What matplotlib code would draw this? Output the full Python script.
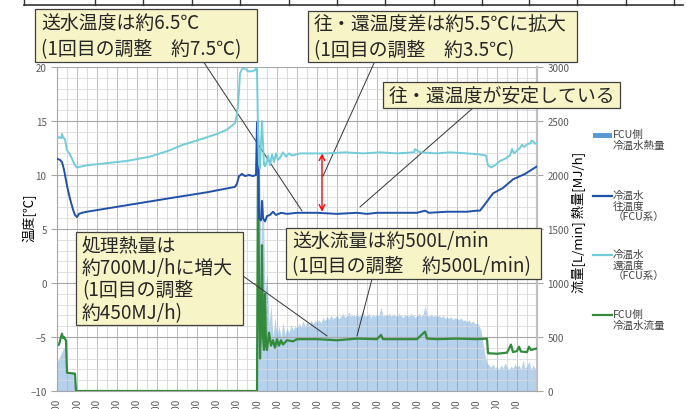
import numpy as np
import matplotlib
matplotlib.use("Agg")
import matplotlib.pyplot as plt
from matplotlib.patches import Rectangle
from matplotlib.lines import Line2D

plt.rcParams['font.family'] = ['Noto Sans CJK JP', 'DejaVu Sans']

W, H = 687, 410

# time axis (hours), one label per hour
hour_ticks = list(range(24))
hour_labels = ['%d:00' % h for h in hour_ticks]

# 冷温水 還温度 (FCU系) [℃]
ret_t = [0, 0.1, 0.2, 0.25, 0.3, 0.4, 0.5, 0.65, 0.75, 0.9, 1.0, 1.5, 2.5, 3.5, 4.65, 5.5,
         6.3, 7.0, 8.0, 8.5, 8.9, 9.0, 9.05, 9.1, 9.15, 9.25, 9.4, 9.55, 9.75, 9.9, 9.95,
         10.0, 10.05, 10.1, 10.15, 10.2, 10.25, 10.3, 10.35, 10.4, 10.5, 10.55, 10.65, 10.75,
         10.85, 10.95, 11.05, 11.15, 11.3, 11.45, 11.6, 11.75, 12.15, 12.65, 13.5, 14.4, 15.3,
         16.15, 17.0, 17.85, 17.9, 18.15, 19.0, 19.65, 20.5, 21.15, 21.45, 21.55, 21.7, 21.9,
         22.15, 22.4, 22.65, 22.75, 22.85, 23.15, 23.25, 23.35, 23.55, 23.65, 23.75, 23.9, 24.0]
ret_temp = [13.4, 13.5, 13.4, 13.8, 13.5, 13.3, 12.3, 11.9, 11.5, 10.9, 10.7, 10.9, 11.1, 11.3, 11.7, 12.2,
            12.8, 13.2, 13.8, 14.2, 14.8, 15.6, 16.5, 17.8, 19.4, 19.8, 19.9, 19.6, 19.6, 19.7, 19.9,
            19.9, 14.0, 11.0, 10.6, 13.0, 15.0, 13.0, 11.0, 10.8, 11.3, 11.8, 10.9, 11.9,
            11.2, 12.0, 11.4, 11.6, 12.1, 11.7, 12.0, 11.8, 12.0, 12.0, 12.0, 12.1, 12.0,
            12.1, 12.0, 12.1, 12.4, 12.1, 12.0, 12.1, 12.0, 11.9, 11.8, 10.9, 10.7, 10.9,
            11.3, 11.5, 11.8, 12.4, 12.0, 12.5, 12.8, 12.6, 12.9, 12.9, 13.2, 12.9, 13.0]

# 冷温水 往温度 (FCU系) [℃]
sup_t = [0, 0.15, 0.25, 0.35, 0.5, 0.65, 0.8, 0.9, 1.0, 1.1, 1.25, 1.5, 3.15, 5.8, 7.5, 8.9,
         9.0, 9.1, 9.25, 9.4, 9.6, 9.8, 9.95, 10.0, 10.05, 10.1, 10.2, 10.25, 10.3, 10.4, 10.5,
         10.65, 10.8, 10.95, 11.2, 11.5, 12.0, 13.0, 14.0, 15.0, 15.5, 16.0, 17.0, 18.0, 18.4,
         18.6, 19.5, 20.5, 21.0, 21.15, 21.4, 21.8, 22.3, 22.8, 23.4, 24.0]
sup_temp = [11.5, 11.4, 11.2, 10.5, 9.0, 7.8, 6.8, 6.3, 6.1, 6.4, 6.5, 6.6, 7.1, 7.9, 8.4, 8.9,
            9.2, 9.9, 10.1, 9.9, 10.0, 9.9, 10.0, 14.9, 15.0, 6.0, 5.8, 7.6, 6.0, 5.7, 6.2,
            6.3, 6.6, 6.3, 6.5, 6.4, 6.5, 6.5, 6.4, 6.5, 6.4, 6.5, 6.5, 6.5, 6.7,
            6.5, 6.6, 6.6, 6.7, 6.7, 7.3, 8.3, 8.8, 9.6, 10.1, 10.8]

# FCU側 冷温水流量 [L/min]
flow_t = [0, 0.1, 0.2, 0.25, 0.3, 0.35, 0.45, 0.5, 0.9, 0.95, 10.0, 10.05, 10.1, 10.15, 10.2,
          10.25, 10.3, 10.35, 10.4, 10.45, 10.5, 10.6, 10.7, 10.8, 10.9, 11.0, 11.1, 11.2, 11.3,
          11.5, 11.8, 12.0, 13.0, 14.0, 15.0, 16.0, 16.2, 16.3, 17.0, 18.0, 18.4, 18.5, 19.0,
          20.0, 21.0, 21.5, 21.55, 22.0, 22.5, 22.7, 22.8, 23.0, 23.1, 23.2, 23.5, 23.6, 23.7, 24.0]
flow = [420, 430, 500, 530, 490, 500, 465, 170, 160, 0, 0, 2200, 1000, 300, 600,
        1350, 500, 380, 900, 420, 380, 540, 420, 470, 400, 480, 420, 470, 430,
        470, 460, 480, 480, 470, 485, 480, 520, 480, 480, 480, 550, 485, 480,
        485, 480, 485, 350, 345, 355, 430, 360, 370, 410, 365, 360, 410, 380, 395]

# FCU側 冷温水熱量 [MJ/h]
heat_t_early = [0, 0.15, 0.3, 0.4, 0.45, 0.5, 0.9, 0.95]
heat_early = [268, 324, 389, 417, 400, 176, 176, 0]
# 10:00 - 24:00, every 6 minutes
heat_late = [0, 2400, 1300, 1900, 900, 1100, 620, 800, 500, 680,
             520, 600, 500, 640, 520, 580, 540, 620, 560, 600,
             580, 630, 590, 650, 600, 640, 610, 660, 620, 650,
             640, 660, 630, 680, 650, 690, 660, 700, 670, 680,
             700, 670, 690, 720, 680, 700, 730, 690, 710, 690,
             720, 690, 710, 740, 690, 700, 720, 680, 710, 690,
             720, 700, 780, 690, 710, 700, 720, 690, 710, 700,
             690, 720, 700, 680, 710, 700, 690, 720, 700, 680,
             700, 720, 690, 710, 790, 700, 690, 710, 690, 700,
             690, 700, 680, 700, 670, 690, 670, 690, 660, 680,
             670, 660, 680, 650, 660, 640, 660, 630, 650, 620,
             630, 610, 560, 440, 330, 260, 240, 220, 250, 210,
             230, 200, 240, 210, 260, 220, 200, 230, 210, 250,
             220, 240, 200, 290, 210, 230, 280, 200, 240, 210,
             220]
heat_t = heat_t_early + [10.0 + 0.1 * i for i in range(len(heat_late))]
heat = heat_early + heat_late

c_heat = '#5B9BD5'
c_sup = '#2150A8'
c_ret = '#72CCD9'
c_flow = '#348A3C'
gray = '#595959'


def fx(x):
    return x / W


def fy(y):
    return 1 - y / H


fig = plt.figure(figsize=(W / 100, H / 100), dpi=100)
ax = fig.add_axes([fx(57), fy(392), (537 - 57) / W, (392 - 68) / H])
ax2 = ax.twinx()
ax.set_zorder(2)
ax.patch.set_visible(False)

# right axis: flow / heat, grid drawn here so it stays behind everything
ax2.set_ylim(0, 3000)
ax2.set_yticks(np.arange(0, 3001, 500))
ax2.set_yticks(np.arange(0, 3001, 100), minor=True)
ax2.grid(which='major', axis='y', color='#a6a6a6', lw=0.8, zorder=0)
ax2.grid(which='minor', axis='y', color='#dadada', lw=0.6, zorder=0)
for xv in np.arange(0, 24.01, 0.5):
    ax2.axvline(xv, color='#bdbdbd' if xv % 1 == 0 else '#dadada', lw=0.7, zorder=0)

ax2.fill_between(heat_t, heat, color=c_heat, alpha=0.45, lw=0, zorder=1)
ax2.plot(flow_t, flow, color=c_flow, lw=1.6, zorder=3)

ax.plot(sup_t, sup_temp, color=c_sup, lw=1.4, zorder=4)
ax.plot(ret_t, ret_temp, color=c_ret, lw=1.4, zorder=4)

ax.set_xlim(0, 24)
ax.set_ylim(-10, 20)
ax.set_yticks(np.arange(-10, 21, 5))
ax.set_xticks(hour_ticks)
ax.set_xticklabels(hour_labels, rotation=90, fontsize=7, color=gray)
ax.tick_params(axis='x', length=0, pad=5)
ax.tick_params(axis='y', labelsize=7, labelcolor=gray, color='#a6a6a6', length=4)
ax2.tick_params(axis='y', which='major', labelsize=7, labelcolor=gray, color='#a6a6a6', length=4)
ax2.tick_params(axis='y', which='minor', length=0)

for s in ['top', 'right']:
    ax.spines[s].set_visible(False)
for s in ['top', 'left', 'bottom']:
    ax2.spines[s].set_visible(False)
ax.spines['left'].set_color('#a6a6a6')
ax.spines['bottom'].set_color('#a6a6a6')
ax2.spines['right'].set_color('#c0c0c0')
ax2.spines['right'].set_linewidth(1.6)

fig.text(fx(29), fy(218), '温度[℃]', rotation=90, ha='center', va='center', fontsize=9.5)
fig.text(fx(579), fy(222), '流量[L/min] 熱量[MJ/h]', rotation=90, ha='center', va='center', fontsize=9.5)

# temperature difference arrow
ax.annotate('', xy=(13.25, 12.0), xytext=(13.25, 6.6),
            arrowprops=dict(arrowstyle='<->', color='red', lw=1, shrinkA=0, shrinkB=0))

# leader lines
lead = dict(arrowstyle='-', color='#333333', lw=0.7, shrinkA=0, shrinkB=0)
ax.annotate('', xy=(12.25, 6.67), xytext=(fx(203), fy(62)), textcoords='figure fraction', arrowprops=lead)
ax.annotate('', xy=(13.3, 9.9), xytext=(fx(375), fy(62)), textcoords='figure fraction', arrowprops=lead)
ax.annotate('', xy=(15.15, 7.04), xytext=(fx(473), fy(109)), textcoords='figure fraction', arrowprops=lead)
ax2.annotate('', xy=(13.5, 510), xytext=(fx(243), fy(277)), textcoords='figure fraction', arrowprops=lead)
ax2.annotate('', xy=(15.0, 510), xytext=(fx(372), fy(280)), textcoords='figure fraction', arrowprops=lead)


def note(x0, y0, x1, y1, text, ls=1.2):
    fig.add_artist(Rectangle((fx(x0), fy(y1)), (x1 - x0) / W, (y1 - y0) / H,
                             transform=fig.transFigure, facecolor='#F7F4C8',
                             edgecolor='#404040', lw=0.9, zorder=10))
    fig.text(fx(x0 + 6), fy((y0 + y1) / 2), text, ha='left', va='center',
             fontsize=13.6, linespacing=ls, zorder=11, color='#262626')


note(35, 10, 257, 63, '送水温度は約6.5℃\n(1回目の調整　約7.5℃)', 1.38)
note(308, 12, 577, 63, '往・還温度差は約5.5℃に拡大\n(1回目の調整　約3.5℃)', 1.38)
note(383, 83, 620, 109, '往・還温度が安定している')
note(76, 233, 243, 326, '処理熱量は\n約700MJ/hに増大\n(1回目の調整\n約450MJ/h)', 1.1)
note(286, 229, 541, 280, '送水流量は約500L/min\n(1回目の調整　約500L/min)', 1.25)

# table edge at the very top
fig.add_artist(Line2D([fx(24), fx(683)], [fy(6), fy(6)], color='#333333', lw=1.2))
for xv in [24, 95, 143, 192, 240, 289, 337, 385, 434, 482, 529, 577, 626, 674]:
    fig.add_artist(Line2D([fx(xv), fx(xv)], [fy(0), fy(6)], color='#333333', lw=1))

# legend
leg = [('patch', c_heat, 136, 'FCU側\n冷温水熱量'),
       ('line', c_sup, 197, '冷温水\n往温度\n（FCU系）'),
       ('line', c_ret, 256, '冷温水\n還温度\n（FCU系）'),
       ('line', c_flow, 316, 'FCU側\n冷温水流量')]
for kind, col, yy, lab in leg:
    if kind == 'patch':
        fig.add_artist(Rectangle((fx(593), fy(yy + 2.5)), 19 / W, 5 / H,
                                 transform=fig.transFigure, facecolor=col, lw=0))
    else:
        fig.add_artist(Line2D([fx(593), fx(612)], [fy(yy), fy(yy)], color=col, lw=1.6))
    fig.text(fx(613), fy(yy - 6), lab, ha='left', va='top', fontsize=7.6, linespacing=1.05, color='#404040')

fig.savefig('out.png', dpi=100)
